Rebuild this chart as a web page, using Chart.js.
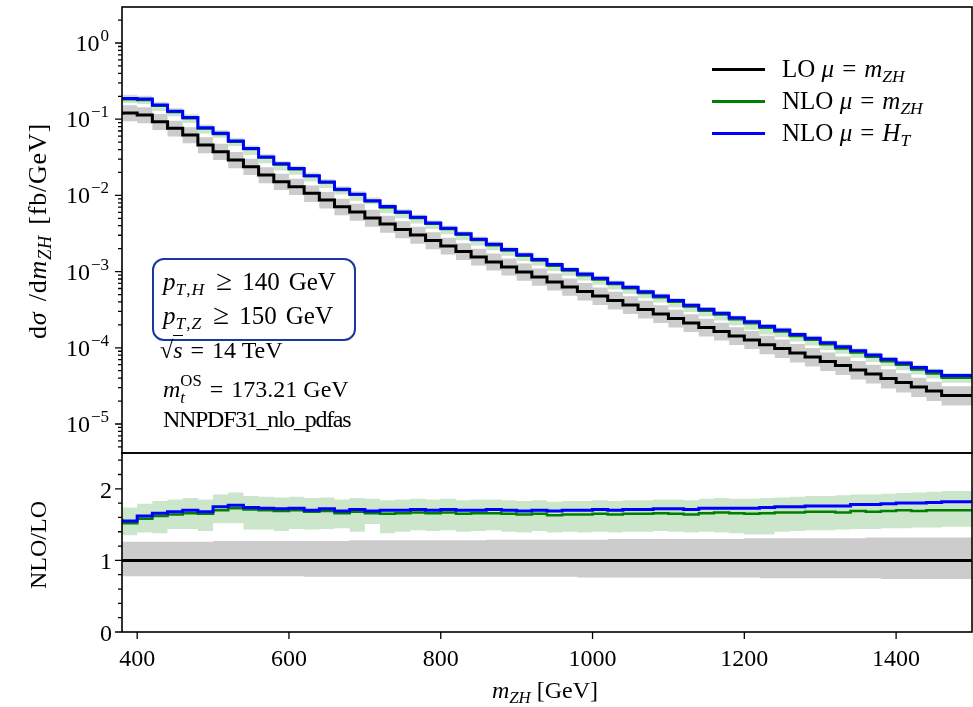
<!DOCTYPE html>
<html>
<head>
<meta charset="utf-8">
<title>ZH invariant mass distribution</title>
<script src="https://cdn.jsdelivr.net/npm/chart.js@4.4.1/dist/chart.umd.min.js"></script>
<style>
  body { margin: 0; background: #fff; }
  #plot { position: relative; width: 973px; height: 707px; overflow: hidden; font-family: "Liberation Serif", serif; color: #000; }
  #plot canvas { position: absolute; left: 0; top: 0; }
  .t { position: absolute; white-space: nowrap; font-size: 24px; line-height: 24px; }
  .t i { font-style: italic; }
  .t sub { font-size: 70%; vertical-align: -0.3em; line-height: 0; }
  .leg { font-size: 25px; }
  .cut { font-size: 25px; }
  .rot { transform: translate(-50%, -50%) rotate(-90deg); }
  .ctr { transform: translate(-50%, -50%); }
  .eq { display: inline-block; margin: 0 8px; }
  .rel { display: inline-block; margin: 0 10px 0 11px; font-size: 29px; line-height: 0; }
  .wide { letter-spacing: 1px; }
  .swatch { position: absolute; left: 712px; width: 53px; height: 3px; }
  .ss { display: inline-block; font-size: 70%; line-height: 1; vertical-align: -0.35em; }
  .ss span { display: block; }
  .root { border-top: 1.5px solid #000; padding-top: 1px; }
  .box { position: absolute; left: 152px; top: 258px; width: 200px; height: 79px; border: 2.5px solid rgb(25, 55, 160); border-radius: 12px; }
</style>
</head>
<body>
<div id="plot">
  <canvas id="chart-ratio" width="973" height="707"></canvas>
  <canvas id="chart-xsec" width="973" height="707"></canvas>

  <div class="swatch" style="top:68px;background:#000"></div>
  <div class="swatch" style="top:100px;background:rgb(0,128,0)"></div>
  <div class="swatch" style="top:132px;background:rgb(0,0,255)"></div>
  <div class="t leg" style="left:782px;top:57px">LO <i>μ</i><span class="eq">=</span><i>m</i><sub><i>ZH</i></sub></div>
  <div class="t leg" style="left:782px;top:89px">NLO <i>μ</i><span class="eq">=</span><i>m</i><sub><i>ZH</i></sub></div>
  <div class="t leg" style="left:782px;top:121px">NLO <i>μ</i><span class="eq">=</span><i>H</i><sub><i>T</i></sub></div>

  <div class="box"></div>
  <div class="t cut" style="left:163px;top:270px"><i>p</i><sub class="wide"><i>T</i>,<i>H</i></sub><span class="rel">≥</span>140<span style="margin-left:9px">GeV</span></div>
  <div class="t cut" style="left:163px;top:304px"><i>p</i><sub class="wide"><i>T</i>,<i>Z</i></sub><span class="rel">≥</span>150<span style="margin-left:9px">GeV</span></div>
  <div class="t" style="left:160px;top:338px">√<span class="root"><i>s</i></span><span class="eq">=</span>14 TeV</div>
  <div class="t" style="left:163px;top:373px"><i>m</i><span class="ss"><span>OS</span><span><i>t</i></span></span><span class="eq">=</span>173.21 GeV</div>
  <div class="t" style="left:163px;top:407px;letter-spacing:-1.3px">NNPDF31_nlo_pdfas</div>

  <div class="t rot" style="left:38px;top:231px;font-size:26px;letter-spacing:0.8px;word-spacing:3px">d<i>σ</i> /d<i>m</i><sub><i>ZH</i></sub> [fb/GeV]</div>
  <div class="t rot" style="left:38px;top:545px">NLO/LO</div>
  <div class="t ctr" style="left:545px;top:690px"><i>m</i><sub><i>ZH</i></sub> [GeV]</div>
</div>

<script>
// m_ZH binning [GeV]
const binEdges = [380, 400, 420, 440, 460, 480, 500, 520, 540, 560, 580, 600, 620, 640, 660, 680,
  700, 720, 740, 760, 780, 800, 820, 840, 860, 880, 900, 920, 940, 960, 980, 1000, 1020, 1040, 1060,
  1080, 1100, 1120, 1140, 1160, 1180, 1200, 1220, 1240, 1260, 1280, 1300, 1320, 1340, 1360, 1380,
  1400, 1420, 1440, 1460, 1480, 1500];

// LO dsigma/dm_ZH [fb/GeV], mu = m_ZH
const loXsec = [0.1135, 0.1206, 0.1135, 0.0927, 0.0760, 0.0621, 0.0459, 0.0375, 0.0292, 0.0238,
  0.0185, 0.0151, 0.0130, 0.01066, 0.00871, 0.00711,
  0.00606, 0.00505, 0.00421, 0.00357, 0.00302, 0.00256, 0.00217, 0.00184, 0.00156, 0.00134,
  0.00115, 0.000988, 0.000849, 0.000731, 0.000628, 0.000548, 0.000479, 0.000418, 0.000365,
  3.18e-4, 2.78e-4, 2.43e-4, 2.12e-4, 1.85e-4, 1.64e-4, 1.43e-4, 1.27e-4, 1.10e-4, 9.79e-5,
  8.55e-5, 7.57e-5, 6.61e-5, 5.86e-5, 5.12e-5, 4.53e-5, 3.95e-5, 3.51e-5, 3.06e-5, 2.71e-5, 2.37e-5];

// LO scale band, relative to LO central
const loBandLo = [0.78, 0.78, 0.78, 0.78, 0.78, 0.78, 0.78, 0.78, 0.78, 0.78, 0.78, 0.78, 0.78,
  0.77, 0.77, 0.77, 0.77, 0.77, 0.77, 0.77, 0.77, 0.77, 0.77, 0.77, 0.77, 0.77, 0.77, 0.77, 0.77,
  0.77, 0.77, 0.76, 0.76, 0.76, 0.76, 0.76, 0.76, 0.76, 0.76, 0.76, 0.76, 0.76, 0.76,
  0.75, 0.75, 0.75, 0.75, 0.75, 0.75, 0.75, 0.75, 0.74, 0.74, 0.74, 0.74, 0.74];
const loBandHi = [1.26, 1.26, 1.26, 1.26, 1.26, 1.26, 1.26, 1.27, 1.27, 1.27, 1.27, 1.27, 1.27,
  1.27, 1.27, 1.27, 1.28, 1.28, 1.28, 1.28, 1.28, 1.28, 1.28, 1.28, 1.28, 1.29, 1.29, 1.29, 1.29,
  1.29, 1.29, 1.29, 1.29, 1.30, 1.30, 1.30, 1.30, 1.30, 1.30, 1.30, 1.30, 1.30, 1.31,
  1.31, 1.31, 1.31, 1.31, 1.31, 1.31, 1.31, 1.32, 1.32, 1.32, 1.32, 1.32, 1.32];

// NLO / LO, mu = m_ZH, with its scale band
const nloRatio = [1.55, 1.52, 1.58, 1.62, 1.64, 1.66, 1.65, 1.70, 1.73, 1.71, 1.70, 1.69, 1.70,
  1.68, 1.69, 1.66, 1.68, 1.66, 1.65, 1.66, 1.67, 1.66, 1.67, 1.65, 1.66, 1.66, 1.65, 1.64, 1.65,
  1.63, 1.64, 1.64, 1.65, 1.64, 1.65, 1.65, 1.66, 1.65, 1.64, 1.66, 1.67, 1.66, 1.65, 1.66,
  1.67, 1.67, 1.68, 1.68, 1.67, 1.69, 1.68, 1.69, 1.70, 1.69, 1.70, 1.70];
const nloBandLo = [1.40, 1.35, 1.39, 1.38, 1.44, 1.44, 1.41, 1.52, 1.52, 1.43, 1.43, 1.41, 1.44,
  1.43, 1.44, 1.45, 1.40, 1.51, 1.38, 1.40, 1.42, 1.41, 1.42, 1.40, 1.41, 1.42, 1.40, 1.39, 1.41,
  1.39, 1.40, 1.39, 1.40, 1.39, 1.40, 1.40, 1.41, 1.40, 1.39, 1.40, 1.39, 1.38, 1.36, 1.36,
  1.40, 1.41, 1.42, 1.42, 1.43, 1.44, 1.44, 1.45, 1.45, 1.46, 1.46, 1.47];
const nloBandHi = [1.78, 1.74, 1.79, 1.83, 1.85, 1.87, 1.85, 1.92, 1.95, 1.90, 1.89, 1.88, 1.89,
  1.87, 1.88, 1.85, 1.87, 1.86, 1.84, 1.85, 1.86, 1.85, 1.86, 1.84, 1.85, 1.85, 1.84, 1.83, 1.84,
  1.82, 1.83, 1.83, 1.84, 1.83, 1.84, 1.84, 1.85, 1.85, 1.84, 1.86, 1.87, 1.86, 1.86, 1.87,
  1.88, 1.89, 1.90, 1.90, 1.91, 1.92, 1.92, 1.93, 1.94, 1.95, 1.96, 1.97];

// NLO / LO, mu = H_T
const htRatio = [1.58, 1.55, 1.62, 1.66, 1.68, 1.70, 1.68, 1.75, 1.77, 1.74, 1.73, 1.72, 1.73,
  1.70, 1.72, 1.69, 1.71, 1.69, 1.70, 1.70, 1.71, 1.70, 1.71, 1.70, 1.70, 1.71, 1.70, 1.69, 1.70,
  1.69, 1.70, 1.70, 1.71, 1.70, 1.71, 1.71, 1.72, 1.72, 1.71, 1.73, 1.73, 1.73, 1.73, 1.74,
  1.75, 1.75, 1.76, 1.76, 1.76, 1.78, 1.78, 1.79, 1.80, 1.80, 1.81, 1.82];

const massTicks = [400, 600, 800, 1000, 1200, 1400];
const xsecTickExponents = [-5, -4, -3, -2, -1, 0];
const ratioTicks = [0, 1, 2];

const BLACK = '#000000';
const GREEN = 'rgb(0,128,0)';
const BLUE = 'rgb(0,0,255)';
const GREEN_BAND = 'rgb(204,230,204)';
const GREY_BAND = 'rgb(204,204,204)';

const tickFont = '24px "Liberation Serif"';
const supFont = '17px "Liberation Serif"';

// histogram as a step line: one point per lower bin edge plus the closing edge
function steps(values) {
  const pts = values.map((v, i) => ({ x: binEdges[i], y: v }));
  pts.push({ x: binEdges[binEdges.length - 1], y: values[values.length - 1] });
  return pts;
}

const times = (a, b) => a.map((v, i) => v * b[i]);

function histLine(values, color, width) {
  return { data: steps(values), borderColor: color, borderWidth: width, stepped: 'after', fill: false };
}
function bandEdge(values, color, fill) {
  return { data: steps(values), borderColor: 'transparent', borderWidth: 0, backgroundColor: color,
    stepped: 'after', fill };
}

function drawPower(ctx, exp, right, y) {
  const expText = exp < 0 ? '\u2212' + Math.abs(exp) : String(exp);
  ctx.font = supFont;
  const we = ctx.measureText(expText).width;
  ctx.font = tickFont;
  const wb = ctx.measureText('10').width;
  const left = right - wb - we - 1;
  ctx.textAlign = 'left';
  ctx.textBaseline = 'alphabetic';
  ctx.fillText('10', left, y + 8);
  ctx.font = supFont;
  ctx.fillText(expText, left + wb + 1, y - 2);
}

// frame, outward ticks and tick labels for one panel
function axesPlugin(cfg) {
  return {
    id: 'axes-' + cfg.key,
    afterDraw(chart) {
      const { ctx, chartArea: a, scales } = chart;
      ctx.save();
      ctx.strokeStyle = BLACK;
      ctx.lineWidth = 1.6;
      ctx.strokeRect(a.left, a.top, a.right - a.left, a.bottom - a.top);
      ctx.lineWidth = 1.3;
      ctx.beginPath();
      cfg.yMinor.forEach(v => {
        const p = scales.y.getPixelForValue(v);
        ctx.moveTo(a.left - 4, p); ctx.lineTo(a.left, p);
      });
      cfg.yMajor.forEach(v => {
        const p = scales.y.getPixelForValue(v);
        ctx.moveTo(a.left - 7, p); ctx.lineTo(a.left, p);
      });
      cfg.xMajor.forEach(v => {
        const p = scales.x.getPixelForValue(v);
        ctx.moveTo(p, a.bottom); ctx.lineTo(p, a.bottom + 7);
      });
      ctx.stroke();

      ctx.fillStyle = BLACK;
      cfg.yMajor.forEach(v => {
        const p = scales.y.getPixelForValue(v);
        if (cfg.logLabels) {
          drawPower(ctx, Math.round(Math.log10(v)), a.left - 13, p);
        } else {
          ctx.font = tickFont;
          ctx.textAlign = 'right';
          ctx.textBaseline = 'alphabetic';
          ctx.fillText(String(v), a.left - 10, p + 9);
        }
      });
      cfg.xMajor.forEach(v => {
        const p = scales.x.getPixelForValue(v);
        ctx.font = tickFont;
        ctx.textAlign = 'center';
        ctx.textBaseline = 'alphabetic';
        ctx.fillText(String(v), p, a.bottom + 34);
      });
      ctx.restore();
    }
  };
}

const logMinor = [];
for (let e = -6; e <= 0; e++) {
  for (let k = 2; k <= 9; k++) logMinor.push(k * Math.pow(10, e));
}
const yMin = 4.16e-6, yMax = 2.97;

const baseOptions = {
  responsive: false,
  animation: false,
  events: [],
  elements: { point: { radius: 0 }, line: { tension: 0 } },
  plugins: { legend: { display: false }, tooltip: { enabled: false } }
};

new Chart(document.getElementById('chart-xsec'), {
  type: 'line',
  data: {
    datasets: [
      histLine(times(loXsec, htRatio), BLUE, 3),
      histLine(times(loXsec, nloRatio), GREEN, 2.5),
      histLine(loXsec, BLACK, 3),
      bandEdge(times(loXsec, nloBandHi), GREEN_BAND, '+1'),
      bandEdge(times(loXsec, nloBandLo), GREEN_BAND, false),
      bandEdge(times(loXsec, loBandHi), GREY_BAND, '+1'),
      bandEdge(times(loXsec, loBandLo), GREY_BAND, false)
    ]
  },
  options: {
    ...baseOptions,
    layout: { padding: { left: 122, right: 1, top: 7, bottom: 254 } },
    scales: {
      x: { type: 'linear', min: 380, max: 1500, display: false },
      y: { type: 'logarithmic', min: yMin, max: yMax, display: false }
    }
  },
  plugins: [axesPlugin({
    key: 'xsec',
    logLabels: true,
    yMajor: xsecTickExponents.map(e => Math.pow(10, e)),
    yMinor: logMinor.filter(v => v > yMin && v < yMax),
    xMajor: []
  })]
});

const ratioMinor = [];
for (let v = 0.2; v < 2.5; v += 0.2) {
  if (Math.abs(v - Math.round(v)) > 0.01) ratioMinor.push(v);
}

new Chart(document.getElementById('chart-ratio'), {
  type: 'line',
  data: {
    datasets: [
      histLine(htRatio, BLUE, 3),
      histLine(nloRatio, GREEN, 2.5),
      histLine(loXsec.map(v => v / v), BLACK, 3),
      bandEdge(nloBandHi, GREEN_BAND, '+1'),
      bandEdge(nloBandLo, GREEN_BAND, false),
      bandEdge(loBandHi, GREY_BAND, '+1'),
      bandEdge(loBandLo, GREY_BAND, false)
    ]
  },
  options: {
    ...baseOptions,
    layout: { padding: { left: 122, right: 1, top: 453, bottom: 75 } },
    scales: {
      x: { type: 'linear', min: 380, max: 1500, display: false },
      y: { type: 'linear', min: 0, max: 2.5, display: false }
    }
  },
  plugins: [axesPlugin({
    key: 'ratio',
    logLabels: false,
    yMajor: ratioTicks,
    yMinor: ratioMinor,
    xMajor: massTicks
  })]
});
</script>
</body>
</html>
